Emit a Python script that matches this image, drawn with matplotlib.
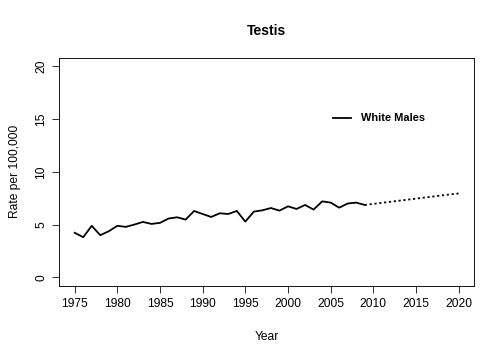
import numpy as np
import matplotlib
matplotlib.use("Agg")
import matplotlib.pyplot as plt

plt.rcParams['font.family'] = ['Liberation Sans', 'DejaVu Sans']

years = list(range(1975, 2010))
rates = [4.22, 3.80, 4.88, 3.99, 4.37, 4.88, 4.78, 5.00, 5.25, 5.06,
         5.16, 5.57, 5.69, 5.47, 6.29, 6.00, 5.72, 6.07, 6.00, 6.29,
         5.28, 6.23, 6.35, 6.57, 6.32, 6.73, 6.48, 6.86, 6.42, 7.20,
         7.08, 6.60, 7.00, 7.08, 6.86]

proj_years = list(range(2009, 2021))
proj_rates = [6.86, 6.96, 7.06, 7.16, 7.26, 7.36, 7.46, 7.56, 7.66, 7.76, 7.86, 7.95]

xticks = list(range(1975, 2021, 5))
yticks = [0, 5, 10, 15, 20]

fig = plt.figure(figsize=(7, 5), dpi=72)
ax = fig.add_axes([0.1177, 0.2064, 0.8228, 0.6325])

ax.plot(years, rates, color='black', lw=1.8, label='White Males')
ax.plot(proj_years, proj_rates, color='black', lw=1.8, ls=(0, (1.2, 1.5)))

ax.set_xlim(1973.2, 2021.8)
ax.set_ylim(-0.8, 20.8)
ax.set_xticks(xticks)
ax.set_yticks(yticks)
ax.tick_params(direction='out', length=7, width=0.8, labelsize=12, pad=5)
for lab in ax.get_yticklabels():
    lab.set_rotation(90)
    lab.set_va('center')
for s in ax.spines.values():
    s.set_linewidth(0.9)

ax.set_title('Testis', fontsize=14, fontweight='bold', pad=23)
ax.set_xlabel('Year', fontsize=12, labelpad=21)
ax.set_ylabel('Rate per 100,000', fontsize=12, labelpad=14)

leg = ax.legend(loc='upper left', bbox_to_anchor=(0.635, 0.80), frameon=False,
                prop={'weight': 'bold', 'size': 11}, handlelength=1.7, handletextpad=0.9)

fig.savefig('out.png', dpi=72)
